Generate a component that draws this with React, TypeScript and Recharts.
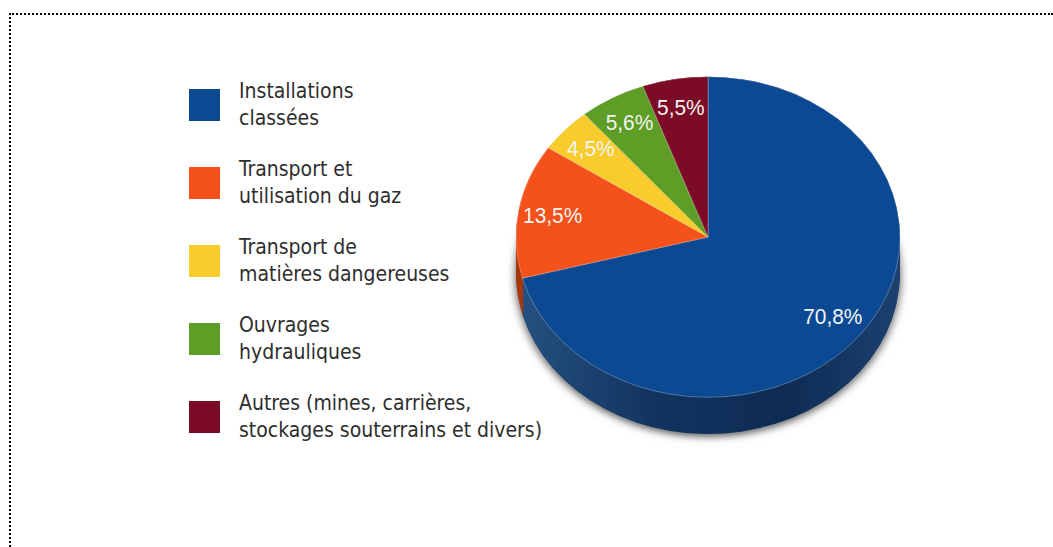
import { PieChart, Pie, Cell, Legend } from "recharts";

const categories = [
  "Installations classées",
  "Transport et utilisation du gaz",
  "Transport de matières dangereuses",
  "Ouvrages hydrauliques",
  "Autres (mines, carrières, stockages souterrains et divers)",
];
const legendLines = [
  ["Installations", "classées"],
  ["Transport et", "utilisation du gaz"],
  ["Transport de", "matières dangereuses"],
  ["Ouvrages", "hydrauliques"],
  ["Autres (mines, carrières,", "stockages souterrains et divers)"],
];
const shares = [70.8, 13.5, 4.5, 5.6, 5.5];
const topColors = ["#0b4a93", "#f5511b", "#f7cc2c", "#5e9e26", "#7b0b26"];
const sideColors = ["url(#sideBlue)", "#a9380f", "#b3921c", "#3f6b19", "#4e0717"];

const data = categories.map((name, i) => ({ name, value: shares[i] }));

const W = 1053;
const H = 547;
const CX = 708;
const CY = 237;
const R = 192;
const SQUASH = 0.835;
const DEPTH = 44; // in unsquashed units
const sideSteps = Array.from({ length: 12 }, (_, i) => DEPTH - i * 4);

const RAD = Math.PI / 180;

const fmt = (v: number) => v.toFixed(1).replace(".", ",") + "%";

// labels are drawn outside the squashed sector layer, so squash their position only
const renderLabel = (p: any) => {
  const r = p.outerRadius * 0.82;
  const x = p.cx + r * Math.cos(-p.midAngle * RAD);
  const y = p.cy + r * Math.sin(-p.midAngle * RAD) * SQUASH;
  return (
    <text
      x={x}
      y={y}
      textAnchor="middle"
      dominantBaseline="central"
      fill="#f4f4f4"
      fontFamily="'Liberation Sans', Arial, sans-serif"
      fontSize={22}
      transform={`translate(${x} 0) scale(0.95 1) translate(${-x} 0)`}
    >
      {fmt(p.value)}
    </text>
  );
};

const renderLegend = () => (
  <div style={{ display: "flex", flexDirection: "column" }}>
    {legendLines.map((lines, i) => (
      <div
        key={categories[i]}
        style={{ display: "flex", alignItems: "center", height: 78 }}
      >
        <div
          style={{
            width: 31,
            height: 32,
            background: topColors[i],
            flexShrink: 0,
          }}
        />
        <div
          style={{
            marginLeft: 19,
            fontFamily:
              "'Liberation Sans Narrow', 'DejaVu Sans Condensed', 'Open Sans', sans-serif",
            fontSize: 21,
            lineHeight: "27px",
            color: "#2e2e2e",
            textAlign: "left",
          }}
        >
          {lines.map((l) => (
            <div key={l}>{l}</div>
          ))}
        </div>
      </div>
    ))}
  </div>
);

export default function App() {
  return (
    <div style={{ position: "absolute", left: 0, top: 0, width: W, height: H, background: "#fff" }}>
      <style>{`
        .pie3d .recharts-pie {
          transform-origin: ${CX}px ${CY}px;
          transform: scaleY(${SQUASH});
        }
        .pie3d .pie-base {
          filter: drop-shadow(0px 3px 4px rgba(0,0,0,0.35));
        }
      `}</style>
      <svg width={0} height={0} style={{ position: "absolute" }}>
        <defs>
          <linearGradient id="sideBlue" x1="0" y1="0" x2="1" y2="0">
            <stop offset="0%" stopColor="#24507f" />
            <stop offset="35%" stopColor="#12335f" />
            <stop offset="70%" stopColor="#0e2b54" />
            <stop offset="100%" stopColor="#1c4170" />
          </linearGradient>
        </defs>
      </svg>
      <div
        style={{
          position: "absolute",
          left: 9,
          top: 13,
          right: 0,
          bottom: 0,
          borderTop: "2px dotted #000",
          borderLeft: "2px dotted #000",
        }}
      />
      <div className="pie3d" style={{ position: "absolute", left: 0, top: 0 }}>
        <PieChart width={W} height={H} margin={{ top: 0, right: 0, bottom: 0, left: 0 }}>
          {sideSteps.map((off, k) => (
            <Pie
              key={off}
              className={k === 0 ? "pie-base" : undefined}
              data={data}
              dataKey="value"
              nameKey="name"
              cx={CX}
              cy={CY + off}
              outerRadius={R}
              startAngle={90}
              endAngle={-270}
              stroke="none"
              legendType="none"
              isAnimationActive={false}
            >
              {data.map((d, i) => (
                <Cell key={d.name} fill={sideColors[i]} />
              ))}
            </Pie>
          ))}
          <Pie
            data={data}
            dataKey="value"
            nameKey="name"
            cx={CX}
            cy={CY}
            outerRadius={R}
            startAngle={90}
            endAngle={-270}
            stroke="#ffffff"
            strokeWidth={0.6}
            strokeOpacity={0.5}
            label={renderLabel}
            labelLine={false}
            isAnimationActive={false}
          >
            {data.map((d, i) => (
              <Cell key={d.name} fill={topColors[i]} />
            ))}
          </Pie>
          <Legend
            layout="vertical"
            align="center"
            verticalAlign="middle"
            content={renderLegend}
            wrapperStyle={{ left: 189, top: 66, width: 420 }}
          />
        </PieChart>
      </div>
    </div>
  );
}
